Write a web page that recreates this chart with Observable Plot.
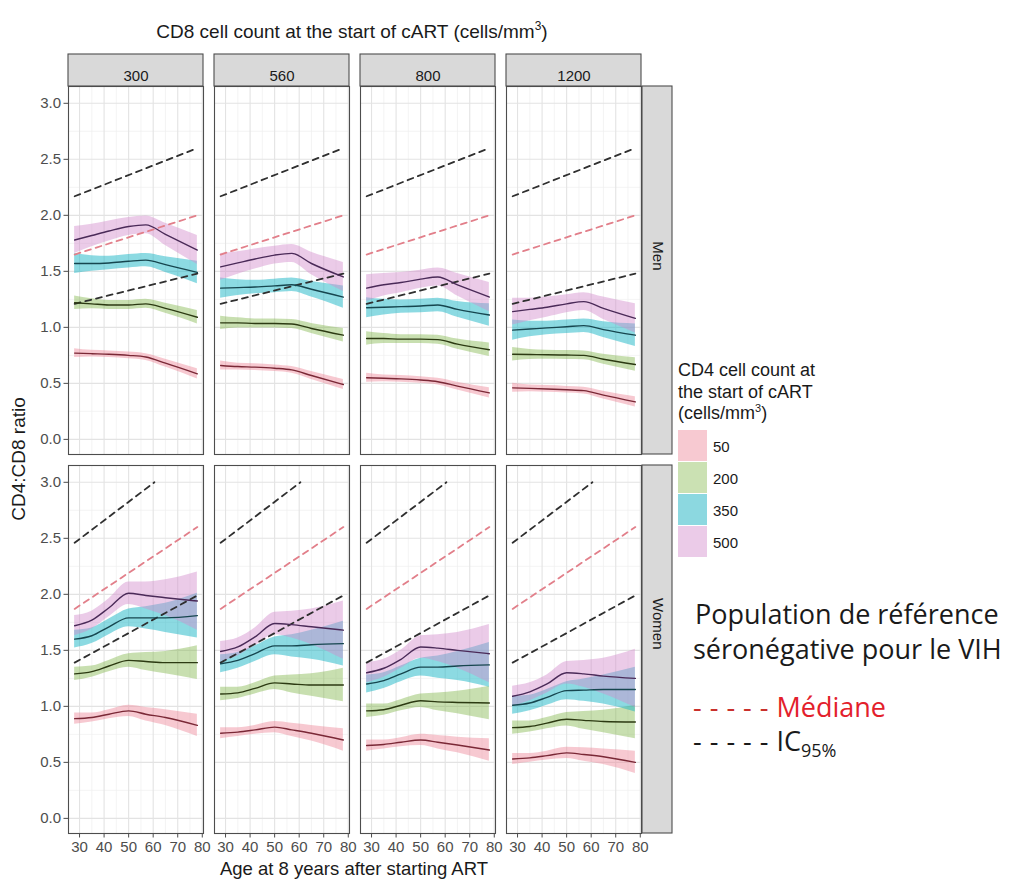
<!DOCTYPE html>
<html>
<head>
<meta charset="utf-8">
<script src="https://cdn.jsdelivr.net/npm/d3@7"></script>
<script src="https://cdn.jsdelivr.net/npm/@observablehq/plot@0.6"></script>
<style>
  html, body { margin: 0; padding: 0; background: #ffffff; }
  #wrap { position: relative; width: 1017px; height: 882px; overflow: hidden; font-family: "Liberation Sans", Arial, sans-serif; }
  #chart { position: absolute; left: 0; top: 0; }
  .abs { position: absolute; white-space: nowrap; line-height: 1; }
  .key { position: absolute; width: 29px; height: 31px; }
  .note { font-family: "Open Sans", "Noto Sans", sans-serif; color: #1a1a1a; font-size: 27px; line-height: 1; }
</style>
</head>
<body>
<div id="wrap">
  <div id="chart"></div>
</div>
<script>
// ---------------- data ----------------
const ages = [28, 35, 42, 50, 57, 65, 78];
const cd8Levels = ["300", "560", "800", "1200"];
const cd4Levels = ["50", "200", "350", "500"];
const sexes = ["Men", "Women"];

// fitted CD4:CD8 ratio; rows = CD4 50, 200, 350, 500
const men300 = [
  [0.77, 0.765, 0.76, 0.75, 0.735, 0.68, 0.585],
  [1.22, 1.21, 1.20, 1.20, 1.21, 1.17, 1.09],
  [1.57, 1.57, 1.575, 1.59, 1.60, 1.56, 1.49],
  [1.78, 1.82, 1.86, 1.90, 1.915, 1.83, 1.69]
];
const men560 = [
  [0.66, 0.65, 0.645, 0.635, 0.62, 0.57, 0.49],
  [1.04, 1.04, 1.035, 1.035, 1.03, 0.99, 0.93],
  [1.35, 1.355, 1.36, 1.37, 1.38, 1.34, 1.27],
  [1.54, 1.575, 1.61, 1.645, 1.66, 1.57, 1.45]
];
const men800 = [
  [0.55, 0.545, 0.54, 0.53, 0.515, 0.475, 0.415],
  [0.90, 0.90, 0.895, 0.895, 0.89, 0.85, 0.80],
  [1.175, 1.18, 1.185, 1.19, 1.20, 1.16, 1.11],
  [1.35, 1.38, 1.40, 1.43, 1.45, 1.38, 1.27]
];
const men1200 = [
  [0.46, 0.455, 0.45, 0.443, 0.435, 0.395, 0.335],
  [0.76, 0.757, 0.755, 0.753, 0.75, 0.715, 0.668],
  [0.975, 0.985, 0.995, 1.005, 1.015, 0.98, 0.93],
  [1.14, 1.16, 1.18, 1.21, 1.23, 1.17, 1.08]
];
const women300 = [
  [0.89, 0.90, 0.93, 0.96, 0.93, 0.90, 0.83],
  [1.29, 1.31, 1.36, 1.41, 1.40, 1.39, 1.39],
  [1.60, 1.63, 1.71, 1.79, 1.79, 1.79, 1.81],
  [1.72, 1.77, 1.88, 2.01, 1.99, 1.97, 1.94]
];
const women560 = [
  [0.76, 0.77, 0.79, 0.815, 0.79, 0.76, 0.70],
  [1.11, 1.12, 1.16, 1.21, 1.20, 1.19, 1.19],
  [1.38, 1.41, 1.47, 1.54, 1.54, 1.55, 1.56],
  [1.49, 1.53, 1.62, 1.74, 1.73, 1.71, 1.68]
];
const women800 = [
  [0.65, 0.66, 0.68, 0.70, 0.68, 0.655, 0.61],
  [0.96, 0.97, 1.01, 1.05, 1.04, 1.035, 1.03],
  [1.20, 1.23, 1.29, 1.35, 1.35, 1.36, 1.37],
  [1.30, 1.34, 1.42, 1.53, 1.52, 1.50, 1.47]
];
const women1200 = [
  [0.53, 0.54, 0.56, 0.585, 0.57, 0.55, 0.50],
  [0.81, 0.82, 0.85, 0.885, 0.875, 0.865, 0.86],
  [1.01, 1.03, 1.08, 1.14, 1.145, 1.15, 1.15],
  [1.09, 1.13, 1.20, 1.30, 1.29, 1.27, 1.25]
];
// half-width of the confidence ribbons; rows = CD4 50, 200, 350, 500
const menHalfWidth = [
  [0.04, 0.03, 0.03, 0.03, 0.03, 0.035, 0.045],
  [0.06, 0.045, 0.04, 0.04, 0.04, 0.045, 0.06],
  [0.09, 0.07, 0.06, 0.06, 0.06, 0.07, 0.10],
  [0.12, 0.10, 0.09, 0.08, 0.08, 0.10, 0.13]
];
const womenHalfWidth = [
  [0.05, 0.04, 0.04, 0.05, 0.06, 0.07, 0.10],
  [0.06, 0.05, 0.05, 0.06, 0.08, 0.10, 0.15],
  [0.08, 0.07, 0.07, 0.08, 0.10, 0.13, 0.20],
  [0.09, 0.08, 0.08, 0.10, 0.12, 0.16, 0.26]
];

// HIV-negative reference population (straight lines)
const refAges = [28, 78];
const menMedian = [1.65, 2.00];
const menLowerIC = [1.21, 1.48];
const menUpperIC = [2.17, 2.60];
const womenMedian = [1.87, 2.60];
const womenLowerIC = [1.39, 1.99];
const womenUpperAges = [28, 60.5];
const womenUpperIC = [2.46, 3.00];

// tick labels
const xTicks = [30, 40, 50, 60, 70, 80];
const xMinor = [35, 45, 55, 65, 75];
const yTicks = [0, 0.5, 1.0, 1.5, 2.0, 2.5, 3.0];
const yMinor = [0.25, 0.75, 1.25, 1.75, 2.25, 2.75];

// colours
const ribbonFill = ["#ee8899", "#7cb342", "#1ab5c5", "#d38ccd"];
const ribbonOpacity = [0.45, 0.42, 0.5, 0.45];
const lineStroke = ["#7a2836", "#2c3a12", "#16464f", "#4a2a58"];
const keyFill = ["#f7c9d1", "#cbe1b3", "#8cd8e0", "#ebcbe8"];

// ---------------- build tables ----------------
const fits = { Men: [men300, men560, men800, men1200], Women: [women300, women560, women800, women1200] };
const halfW = { Men: menHalfWidth, Women: womenHalfWidth };
const rows = [];
for (const sex of sexes) {
  cd8Levels.forEach((cd8, j) => {
    cd4Levels.forEach((cd4, k) => {
      ages.forEach((age, i) => {
        const v = fits[sex][j][k][i], h = halfW[sex][k][i];
        rows.push({ sex, cd8, cd4, k, age, fit: v, lo: v - h, hi: v + h });
      });
    });
  });
}
const refRows = [];
function addRef(sex, kind, xs, ys) {
  for (const cd8 of cd8Levels) xs.forEach((a, i) => refRows.push({ sex, cd8, kind, age: a, value: ys[i] }));
}
addRef("Men", "median", refAges, menMedian);
addRef("Men", "lower", refAges, menLowerIC);
addRef("Men", "upper", refAges, menUpperIC);
addRef("Women", "median", refAges, womenMedian);
addRef("Women", "lower", refAges, womenLowerIC);
addRef("Women", "upper", womenUpperAges, womenUpperIC);

const topStrips = cd8Levels.map(cd8 => ({ cd8, sex: "Men" }));
const rightStrips = sexes.map(sex => ({ cd8: "1200", sex }));

// ---------------- plot ----------------
const marks = [
  Plot.gridX(xMinor, { stroke: "#efefef", strokeOpacity: 1, strokeWidth: 0.7 }),
  Plot.gridY(yMinor, { stroke: "#efefef", strokeOpacity: 1, strokeWidth: 0.7 }),
  Plot.gridX(xTicks, { stroke: "#e3e3e3", strokeOpacity: 1, strokeWidth: 1.1 }),
  Plot.gridY(yTicks, { stroke: "#e3e3e3", strokeOpacity: 1, strokeWidth: 1.1 })
];
cd4Levels.forEach((cd4, k) => {
  marks.push(Plot.areaY(rows.filter(d => d.cd4 === cd4), {
    x: "age", y1: "lo", y2: "hi", fx: "cd8", fy: "sex", z: d => d.sex + d.cd8,
    fill: ribbonFill[k], fillOpacity: ribbonOpacity[k], curve: "monotone-x"
  }));
});
const refStyle = { median: ["#e27f8a", 1.8], lower: ["#2f2f2f", 1.8], upper: ["#2f2f2f", 1.8] };
for (const kind of ["median", "lower", "upper"]) {
  marks.push(Plot.line(refRows.filter(d => d.kind === kind), {
    x: "age", y: "value", fx: "cd8", fy: "sex", z: d => d.sex + d.cd8,
    stroke: refStyle[kind][0], strokeWidth: refStyle[kind][1], strokeDasharray: "6,5"
  }));
}
cd4Levels.forEach((cd4, k) => {
  marks.push(Plot.line(rows.filter(d => d.cd4 === cd4), {
    x: "age", y: "fit", fx: "cd8", fy: "sex", z: d => d.sex + d.cd8,
    stroke: lineStroke[k], strokeWidth: 1.4, curve: "monotone-x"
  }));
});
marks.push(
  Plot.frame({ stroke: "#4d4d4d", strokeWidth: 1.1 }),
  Plot.rect(topStrips, { fx: "cd8", fy: "sex", fill: "#d9d9d9", stroke: "#4d4d4d", strokeWidth: 1.1, insetTop: -32, insetBottom: 368 }),
  Plot.text(topStrips, { fx: "cd8", fy: "sex", text: "cd8", frameAnchor: "top", dy: -16, fontSize: 15, fill: "#1a1a1a" }),
  Plot.rect(rightStrips, { fx: "cd8", fy: "sex", fill: "#d9d9d9", stroke: "#4d4d4d", strokeWidth: 1.1, insetLeft: 136, insetRight: -31 }),
  Plot.text(rightStrips, { fx: "cd8", fy: "sex", text: "sex", frameAnchor: "right", dx: 16, rotate: 90, fontSize: 15, fill: "#1a1a1a" }),
  Plot.axisX({ ticks: xTicks, tickSize: 4.5, tickPadding: 3, fontSize: 15, color: "#4d4d4d", label: null }),
  Plot.axisY({ ticks: yTicks, tickFormat: d3.format(".1f"), tickSize: 4.5, tickPadding: 3, fontSize: 15, color: "#4d4d4d", label: null })
);

const chart = Plot.plot({
  width: 1017, height: 882,
  marginLeft: 68, marginRight: 376, marginTop: 86, marginBottom: 49,
  style: { fontFamily: "Liberation Sans, Arial, sans-serif", background: "transparent", overflow: "visible" },
  x: { domain: [25.5, 80.5] },
  y: { domain: [-0.135, 3.15] },
  fx: { domain: cd8Levels, paddingInner: 11 / 146, paddingOuter: 0, axis: null },
  fy: { domain: sexes, paddingInner: 11 / 379, paddingOuter: 0, axis: null },
  marks
});
const wrap = document.getElementById("wrap");
document.getElementById("chart").appendChild(chart);

// ---------------- titles, legend, annotation ----------------
function addText(html, css) {
  const d = document.createElement("div");
  d.className = "abs";
  d.innerHTML = html;
  Object.assign(d.style, css);
  wrap.appendChild(d);
  return d;
}
addText("CD8 cell count at the start of cART (cells/mm<sup style='font-size:12px;line-height:0'>3</sup>)",
  { left: "352px", top: "31px", transform: "translate(-50%,-50%)", fontSize: "19px", color: "#1a1a1a" });
addText("Age at 8 years after starting ART",
  { left: "354px", top: "869px", transform: "translate(-50%,-50%)", fontSize: "18.5px", color: "#1a1a1a" });
addText("CD4:CD8 ratio",
  { left: "18px", top: "459px", transform: "translate(-50%,-50%) rotate(-90deg)", fontSize: "19px", color: "#1a1a1a" });

const legendTitle = ["CD4 cell count at", "the start of cART", "(cells/mm<sup style='font-size:11px;line-height:0'>3</sup>)"];
legendTitle.forEach((t, i) => addText(t, { left: "678px", top: (370 + i * 21.5) + "px", transform: "translateY(-50%)", fontSize: "18px", color: "#1a1a1a" }));
cd4Levels.forEach((lab, k) => {
  const key = document.createElement("div");
  key.className = "key";
  key.style.left = "678px";
  key.style.top = (430 + k * 32) + "px";
  key.style.background = keyFill[k];
  wrap.appendChild(key);
  addText(lab, { left: "713px", top: (446 + k * 32) + "px", transform: "translateY(-50%)", fontSize: "15px", color: "#1a1a1a" });
});

const n1 = addText("Population de référence", { left: "695px", top: "613px", transform: "translateY(-50%)" });
n1.classList.add("note");
const n2 = addText("séronégative pour le VIH", { left: "693px", top: "648px", transform: "translateY(-50%)" });
n2.classList.add("note");
const n3 = addText("<span style='letter-spacing:8px;color:#c9302c'>-----</span><span style='color:#e3202b'>Médiane</span>", { left: "693px", top: "706px", transform: "translateY(-50%)" });
n3.classList.add("note");
const n4 = addText("<span style='letter-spacing:8px'>-----</span>IC<sub style='font-size:18px;line-height:0'>95%</sub>", { left: "693px", top: "740px", transform: "translateY(-50%)" });
n4.classList.add("note");
</script>
</body>
</html>
